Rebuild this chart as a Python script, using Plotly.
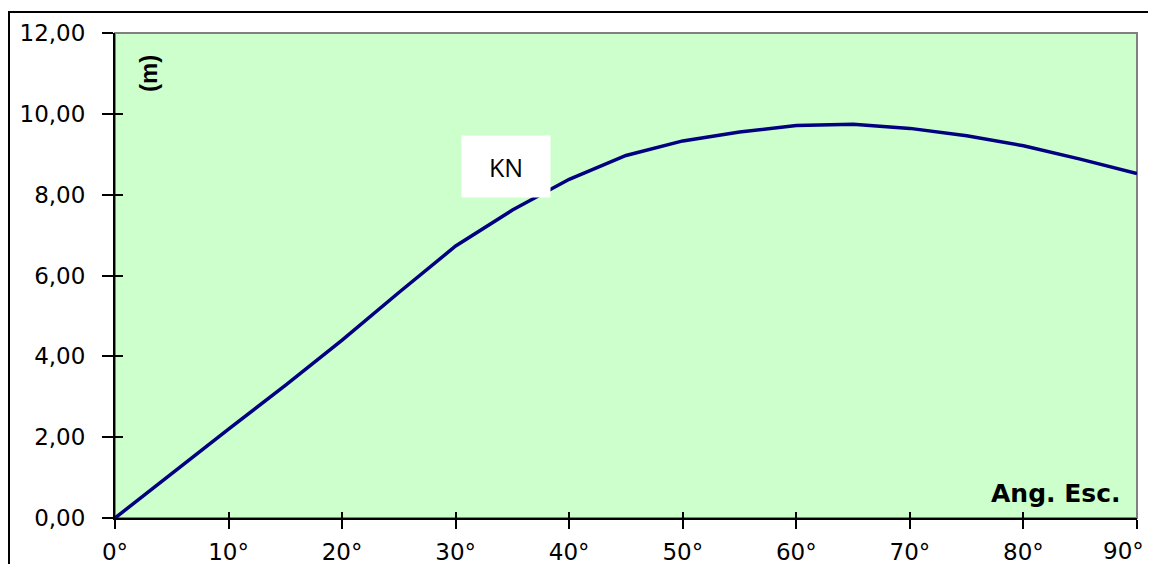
import plotly.graph_objects as go

# Data
angles = [0, 5, 10, 15, 20, 25, 30, 35, 40, 45, 50, 55, 60, 65, 70, 75, 80, 85, 90]
kn = [0.0, 1.11, 2.2, 3.28, 4.40, 5.58, 6.73, 7.62, 8.38, 8.97, 9.33, 9.55, 9.71, 9.74, 9.64, 9.46, 9.21, 8.88, 8.52]
x_ticks = [0, 10, 20, 30, 40, 50, 60, 70, 80, 90]
x_tick_labels = [f"{v}°" for v in x_ticks]
y_ticks = [0, 2, 4, 6, 8, 10, 12]

FONT = "DejaVu Sans"

# figure is placed by the page with an 8px body margin
W, H = 1140, 556
L, R, T, B = 107, 11, 25, 46
PW, PH = W - L - R, H - T - B


def px(xp):
    return (xp - 8 - L) / PW


def py(yp):
    return (H - B - (yp - 8)) / PH


# last tick label would be clipped at the figure edge: draw it as an annotation
axis_tick_text = x_tick_labels[:-1] + [""]

fig = go.Figure()
fig.add_trace(go.Scatter(x=angles, y=kn, mode="lines",
                         line=dict(color="#000080", width=3.5),
                         hoverinfo="skip", showlegend=False))
# invisible trace for the overlay axes carrying the inner tick marks
fig.add_trace(go.Scatter(x=angles, y=kn, mode="lines", xaxis="x2", yaxis="y2",
                         line=dict(width=0), opacity=0,
                         hoverinfo="skip", showlegend=False))

fig.update_layout(
    width=W, height=H,
    margin=dict(l=L, r=R, t=T, b=B, autoexpand=False),
    paper_bgcolor="white",
    plot_bgcolor="#CCFFCC",
    separators=",.",
    showlegend=False,
    xaxis=dict(range=[0, 90], tickvals=x_ticks, ticktext=axis_tick_text,
               ticks="outside", ticklen=9, tickwidth=2, tickcolor="black",
               showline=True, linecolor="black", linewidth=2,
               showgrid=False, zeroline=False, automargin=False,
               ticklabeloverflow="allow",
               tickfont=dict(family=FONT, size=23, color="black"),
               ticklabelstandoff=3),
    yaxis=dict(range=[0, 12], tickvals=y_ticks, tickformat=".2f",
               ticks="outside", ticklen=11, tickwidth=2, tickcolor="black",
               showline=True, linecolor="black", linewidth=2,
               showgrid=False, zeroline=False, automargin=False,
               ticklabeloverflow="allow",
               tickfont=dict(family=FONT, size=23, color="black"),
               ticklabelstandoff=12),
    xaxis2=dict(range=[0, 90], tickvals=x_ticks, overlaying="x", side="bottom",
                anchor="y2", ticks="inside", ticklen=6, tickwidth=2, tickcolor="black",
                automargin=False,
                showticklabels=False, showline=False, showgrid=False, zeroline=False),
    yaxis2=dict(range=[0, 12], tickvals=y_ticks, overlaying="y", side="left",
                anchor="x2", ticks="inside", ticklen=8, tickwidth=2, tickcolor="black",
                automargin=False,
                showticklabels=False, showline=False, showgrid=False, zeroline=False),
    shapes=[
        # plot area frame (gray top/right)
        dict(type="rect", xref="paper", yref="paper", x0=0, x1=1, y0=0, y1=1,
             line=dict(color="#808080", width=2), fillcolor="rgba(0,0,0,0)", layer="below"),
        # outer chart border
        dict(type="rect", xref="paper", yref="paper",
             x0=px(9), x1=px(1200),
             y0=py(620), y1=py(12),
             line=dict(color="black", width=2), fillcolor="rgba(0,0,0,0)"),
    ],
    annotations=[
        dict(text="KN", x=34.4, y=8.70, xref="x", yref="y", showarrow=False,
             bgcolor="white", width=86, height=59,
             font=dict(family="Open Sans", size=25, color="black")),
        dict(text="<b>(m)</b>", x=px(148), y=py(74),
             xref="paper", yref="paper", showarrow=False, textangle=-90,
             xanchor="center", yanchor="middle",
             font=dict(family="Liberation Sans", size=24, color="black")),
        dict(text="<b>Ang. Esc.</b>", x=px(1123), y=py(493),
             xref="paper", yref="paper", xanchor="right", yanchor="middle",
             showarrow=False,
             font=dict(family=FONT, size=25, color="black")),
        dict(text=x_tick_labels[-1], x=1, y=py(551),
             xref="paper", yref="paper", xanchor="right", yanchor="middle",
             xshift=9, showarrow=False,
             font=dict(family=FONT, size=23, color="black")),
    ],
)

fig.write_html("out.html")
